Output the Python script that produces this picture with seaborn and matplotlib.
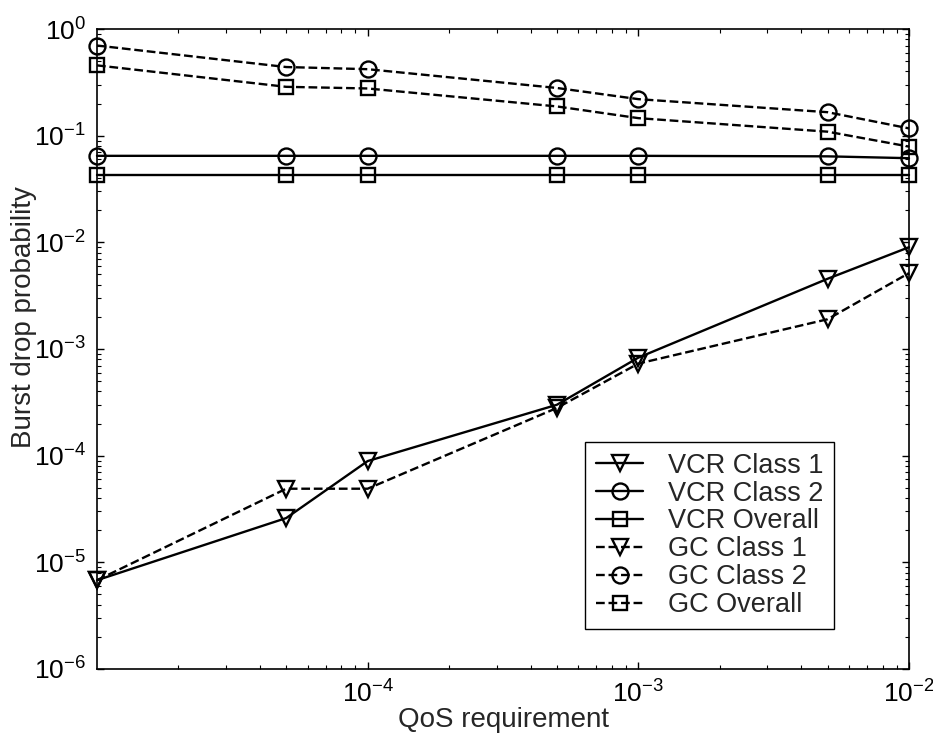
import numpy as np
import pandas as pd
import seaborn as sns
import matplotlib
matplotlib.use("Agg")
import matplotlib.pyplot as plt
from matplotlib.ticker import FixedLocator, LogLocator, NullFormatter, FuncFormatter

# QoS requirement (x) and burst drop probability per scheme/class
qos = [1e-5, 5e-5, 1e-4, 5e-4, 1e-3, 5e-3, 1e-2]
vcr_class1 = [6.8e-6, 2.6e-5, 8.9e-5, 3.0e-4, 8.3e-4, 4.55e-3, 9.0e-3]
vcr_class2 = [0.0647, 0.0647, 0.0647, 0.0647, 0.0647, 0.064, 0.0615]
vcr_overall = [0.0425, 0.0425, 0.0425, 0.0425, 0.0425, 0.0425, 0.0425]
gc_class1 = [6.8e-6, 4.9e-5, 4.9e-5, 2.8e-4, 7.3e-4, 1.9e-3, 5.15e-3]
gc_class2 = [0.70, 0.44, 0.42, 0.28, 0.22, 0.166, 0.117]
gc_overall = [0.456, 0.287, 0.277, 0.188, 0.146, 0.109, 0.079]

series_names = ["VCR Class 1", "VCR Class 2", "VCR Overall",
                "GC Class 1", "GC Class 2", "GC Overall"]
series_values = [vcr_class1, vcr_class2, vcr_overall,
                 gc_class1, gc_class2, gc_overall]

df = pd.DataFrame({
    "qos": np.tile(qos, len(series_names)),
    "prob": np.concatenate(series_values),
    "series": np.repeat(series_names, len(qos)),
})

sns.set_style("ticks")
plt.rcParams["font.family"] = ["Liberation Sans", "DejaVu Sans"]
plt.rcParams["mathtext.default"] = "regular"
plt.rcParams["xtick.direction"] = "in"
plt.rcParams["ytick.direction"] = "in"

FS = 19

fig = plt.figure(figsize=(9.33, 7.33), dpi=100)
ax = fig.add_axes([97 / 933, 1 - 669 / 733, (909 - 97) / 933, (669 - 29) / 733])

styles = {
    "VCR Class 1": dict(marker="v", ls="-", ms=12),
    "VCR Class 2": dict(marker="o", ls="-", ms=11.5),
    "VCR Overall": dict(marker="s", ls="-", ms=9.5),
    "GC Class 1": dict(marker="v", ls="--", ms=12),
    "GC Class 2": dict(marker="o", ls="--", ms=11.5),
    "GC Overall": dict(marker="s", ls="--", ms=9.5),
}

for name in series_names:
    st = styles[name]
    sub = df[df["series"] == name]
    line_kw = dict(linestyle=st["ls"])
    if st["ls"] == "--":
        line_kw["dashes"] = (4, 2.5)
    sns.lineplot(data=sub, x="qos", y="prob", ax=ax, color="black",
                 linewidth=1.7, marker=st["marker"], markersize=st["ms"],
                 markerfacecolor="none", markeredgecolor="black",
                 markeredgewidth=1.7, label=name, clip_on=False,
                 **line_kw)

ax.set_xscale("log")
ax.set_yscale("log")
ax.set_xlim(1e-5, 1e-2)
ax.set_ylim(1e-6, 1e0)

def pow10(v, pos):
    return r"$10^{%d}$" % int(round(np.log10(v)))

ax.xaxis.set_major_locator(FixedLocator([1e-4, 1e-3, 1e-2]))
ax.xaxis.set_major_formatter(FuncFormatter(pow10))
ax.xaxis.set_minor_locator(LogLocator(base=10, subs=np.arange(2, 10), numticks=20))
ax.xaxis.set_minor_formatter(NullFormatter())
ax.yaxis.set_major_locator(FixedLocator([10.0 ** k for k in range(-6, 1)]))
ax.yaxis.set_major_formatter(FuncFormatter(pow10))
ax.yaxis.set_minor_locator(LogLocator(base=10, subs=np.arange(2, 10), numticks=20))
ax.yaxis.set_minor_formatter(NullFormatter())

ax.tick_params(which="both", direction="in", top=True, right=True,
               labelsize=FS, colors="black")
ax.tick_params(which="major", length=5, width=1, pad=8)
ax.tick_params(which="minor", length=3, width=0.8)
for sp in ax.spines.values():
    sp.set_linewidth(1.2)
    sp.set_color("black")

ax.set_xlabel("QoS requirement", fontsize=20, labelpad=0)
ax.set_ylabel("Burst drop probability", fontsize=20)
ax.yaxis.set_label_coords(-0.074, 0.55)

leg = ax.legend(loc="lower right", bbox_to_anchor=(0.9076, 0.0625),
                borderaxespad=0, fontsize=19.5, frameon=True, fancybox=False,
                edgecolor="black", framealpha=1, handlelength=1.75,
                handletextpad=0.9, labelspacing=0.07, borderpad=0.4,
                numpoints=1)
leg.get_frame().set_linewidth(1.0)

fig.savefig("out.png", dpi=100, facecolor="white")
